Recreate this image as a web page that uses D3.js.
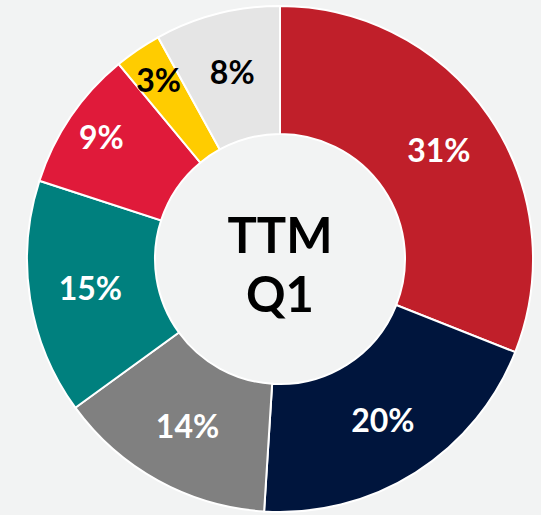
<!DOCTYPE html>
<html>
<head>
<meta charset="utf-8">
<script src="https://cdn.jsdelivr.net/npm/d3@7"></script>
<style>
  body { margin: 0; background: #f2f3f3; }
  svg { display: block; }
  text { font-family: "Century Gothic", Lato, "DejaVu Sans", sans-serif; font-weight: bold; }
</style>
</head>
<body>
<div class="chart"></div>
<script>
// data, clockwise from 12 o'clock
const values = [31, 20, 14, 15, 9, 3, 8];
const colors = ["#c01f2a", "#00153d", "#808080", "#00807e", "#e01a3a", "#ffcc00", "#e5e5e5"];
const labelColors = ["white", "white", "white", "white", "white", "black", "black"];
const centerLines = ["TTM", "Q1"];

const width = 541, height = 515;
const cx = 280, cy = 259;
const outer = 253, inner = 125;

const svg = d3.select(".chart").append("svg")
    .attr("width", width)
    .attr("height", height)
    .append("g")
    .attr("transform", `translate(${cx},${cy})`);

const pie = d3.pie().sort(null).value(d => d);
const arcs = pie(values);

const arc = d3.arc().innerRadius(inner).outerRadius(outer);
const labelArc = d3.arc().innerRadius(192).outerRadius(192);
const smallArc = d3.arc().innerRadius(216).outerRadius(216);

svg.selectAll(".slice")
    .data(arcs)
    .join("path")
    .attr("class", "slice")
    .attr("d", arc)
    .attr("fill", (d, i) => colors[i])
    .attr("stroke", "white")
    .attr("stroke-width", 2);

// labels - thin slices on the left get pushed out a bit,
// the last one has room next to the big slice
svg.selectAll(".label")
    .data(arcs)
    .join("text")
    .attr("class", "label")
    .attr("transform", (d, i) => {
        const a = (d.data < 10 && i < values.length - 1) ? smallArc : labelArc;
        return `translate(${a.centroid(d)})`;
    })
    .attr("text-anchor", "middle")
    .attr("dy", "0.35em")
    .attr("font-size", 32)
    .attr("fill", (d, i) => labelColors[i])
    .text(d => d.data + "%");

// center title
svg.append("text")
    .attr("text-anchor", "middle")
    .attr("font-size", 49)
    .attr("fill", "black")
    .selectAll("tspan")
    .data(centerLines)
    .join("tspan")
    .attr("x", 0)
    .attr("y", (d, i) => i === 0 ? -6 : 53)
    .text(d => d);
</script>
</body>
</html>
